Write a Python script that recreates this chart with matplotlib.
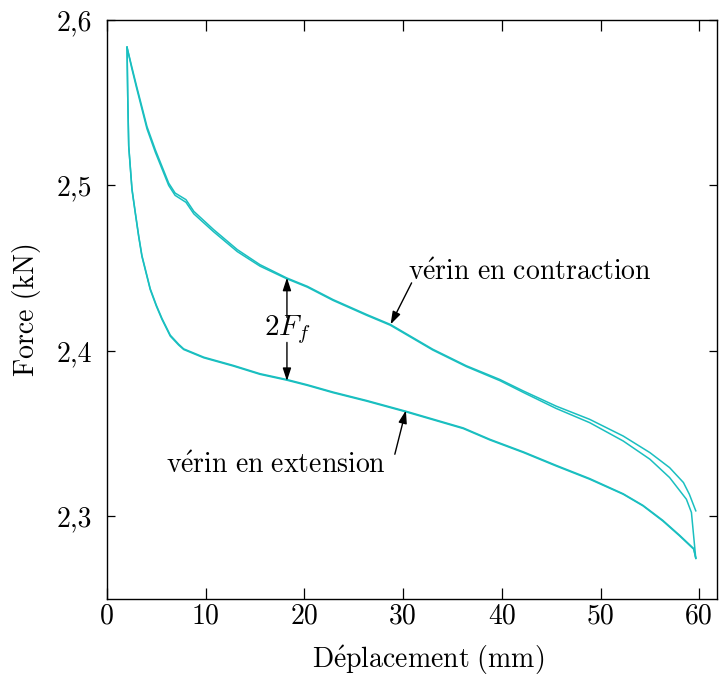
import matplotlib
matplotlib.use("Agg")
import matplotlib.pyplot as plt

plt.rcParams['font.family'] = ['cmr10', 'DejaVu Serif']
plt.rcParams['mathtext.fontset'] = 'cm'
plt.rcParams['axes.unicode_minus'] = False

# --- data: extension branch (displacement increasing) ---
x_ext = [2.03, 2.1, 2.2, 2.53, 2.87, 3.21, 3.54, 4.38, 5.0, 5.57, 6.41, 7.26, 7.77,
         9.8, 12.8, 15.5, 18.2, 20.3, 22.9, 26.3, 30.35, 36.1, 38.8, 42.2, 45.5,
         48.9, 52.3, 54.3, 56.3, 58.0, 59.44, 59.65]
f_ext1 = [2.5835, 2.5537, 2.5235, 2.4974, 2.4830, 2.4690, 2.4570, 2.4370, 2.4270,
          2.4190, 2.4089, 2.4035, 2.4008, 2.3958, 2.3908, 2.3858, 2.3823, 2.3791,
          2.3747, 2.3696, 2.3630, 2.3530, 2.3461, 2.3385, 2.3304, 2.3224, 2.3133,
          2.3063, 2.2972, 2.2882, 2.2801, 2.2747]
f_ext2 = [2.5835, 2.5540, 2.5240, 2.4980, 2.4836, 2.4696, 2.4576, 2.4376, 2.4276,
          2.4196, 2.4095, 2.4040, 2.4012, 2.3962, 2.3912, 2.3862, 2.3827, 2.3795,
          2.3751, 2.3700, 2.3634, 2.3534, 2.3465, 2.3389, 2.3308, 2.3228, 2.3136,
          2.3066, 2.2976, 2.2886, 2.2805, 2.2747]

# --- data: contraction branch (displacement decreasing) ---
x_con1 = [2.03, 2.5, 3.0, 4.05, 4.9, 6.25, 6.9, 8.0, 8.8, 10.8, 13.2, 15.5, 18.2,
          20.3, 22.9, 26.3, 28.7, 33.0, 36.4, 39.8, 42.2, 45.5, 48.9, 52.3, 55.0,
          57.0, 58.4, 59.0, 59.65]
f_con1 = [2.5835, 2.5720, 2.5600, 2.5356, 2.5215, 2.5014, 2.4954, 2.4914, 2.4843,
          2.4733, 2.4612, 2.4521, 2.4441, 2.4390, 2.4310, 2.4220, 2.4160, 2.4010,
          2.3910, 2.3827, 2.3757, 2.3666, 2.3586, 2.3485, 2.3385, 2.3294, 2.3204,
          2.3133, 2.3033]
x_con2 = [2.03, 2.5, 3.0, 4.05, 4.9, 6.25, 6.9, 8.0, 8.8, 10.8, 13.2, 15.5, 18.2,
          20.3, 22.9, 26.3, 28.7, 33.0, 36.4, 39.8, 42.2, 45.5, 48.9, 52.3, 55.0,
          57.0, 58.7, 59.21, 59.65]
f_con2 = [2.5835, 2.5710, 2.5588, 2.5342, 2.5200, 2.5000, 2.4940, 2.4898, 2.4828,
          2.4720, 2.4600, 2.4512, 2.4436, 2.4385, 2.4305, 2.4215, 2.4155, 2.4005,
          2.3905, 2.3820, 2.3748, 2.3652, 2.3566, 2.3455, 2.3345, 2.3234, 2.3103,
          2.3023, 2.2745]

xticks = [0, 10, 20, 30, 40, 50, 60]
yticks = [2.3, 2.4, 2.5, 2.6]
ytick_labels = ['2,3', '2,4', '2,5', '2,6']

color = '#1ABFC0'

fig = plt.figure(figsize=(7.19, 6.77), dpi=100)
ax = fig.add_axes([107/719, 1-599/677, 610/719, 579/677])

for xs, ys in [(x_ext, f_ext1), (x_ext, f_ext2), (x_con1, f_con1), (x_con2, f_con2)]:
    ax.plot(xs, ys, color=color, lw=1.1)

ax.set_xlim(0, 61.8)
ax.set_ylim(2.25, 2.6)
ax.set_xticks(xticks)
ax.set_xticklabels([str(t) for t in xticks])
ax.set_yticks(yticks)
ax.set_yticklabels(ytick_labels)
ax.tick_params(axis='both', direction='in', top=True, right=True, labelsize=20,
               width=0.9, colors='black')
ax.tick_params(axis='x', length=8, pad=3)
ax.tick_params(axis='y', length=6, pad=11)
for s in ax.spines.values():
    s.set_linewidth(1.0)

ax.set_xlabel(r'$\mathrm{D\acute{e}placement\ (mm)}$', fontsize=20)
ax.set_ylabel('Force (kN)', fontsize=20)
ax.xaxis.set_label_coords((428-107)/610, (599-643)/579)
ax.yaxis.set_label_coords((41-107)/610, 0.5)

arrow = dict(arrowstyle='-|>,head_length=0.55,head_width=0.18', color='black',
             lw=1.0, mutation_scale=14, shrinkA=0, shrinkB=0)

ax.annotate('', xy=(28.73, 2.4160), xytext=(30.86, 2.4411), arrowprops=arrow)
ax.text(30.5, 2.4431, r'$\mathrm{v\acute{e}rin\ en\ contraction}$', fontsize=20,
        ha='left', va='baseline')

ax.annotate('', xy=(30.28, 2.3640), xytext=(29.16, 2.3375), arrowprops=arrow)
ax.text(5.95, 2.3262, r'$\mathrm{v\acute{e}rin\ en\ extension}$', fontsize=20,
        ha='left', va='baseline')

ax.annotate('', xy=(18.23, 2.4442), xytext=(18.23, 2.4202), arrowprops=arrow)
ax.annotate('', xy=(18.23, 2.3818), xytext=(18.23, 2.4051), arrowprops=arrow)
ax.text(18.23, 2.4129, r'$2F_f$', fontsize=21, ha='center', va='center')

fig.savefig('out.png', dpi=100)
